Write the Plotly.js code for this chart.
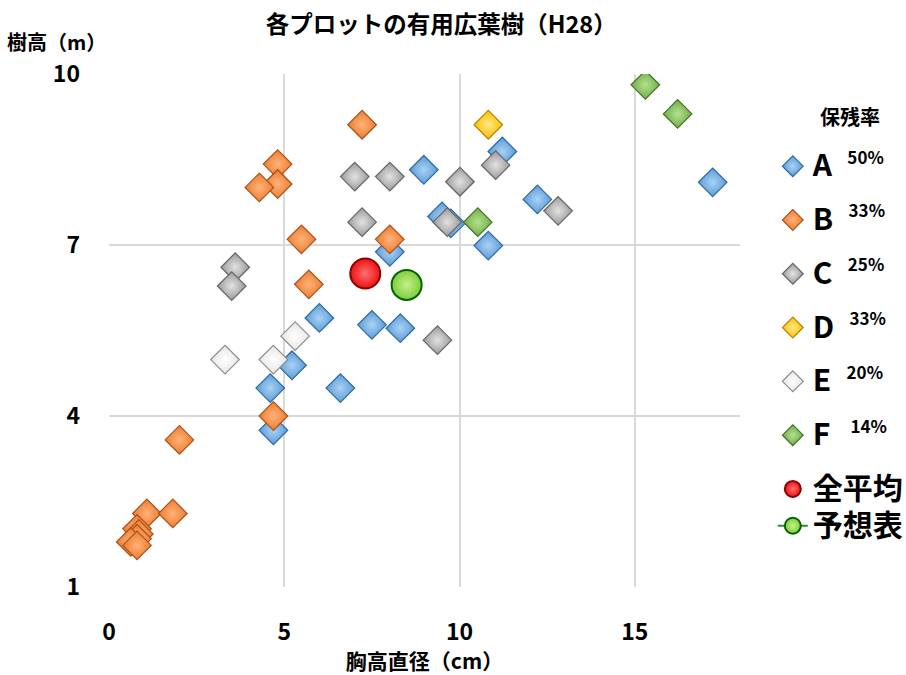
<!DOCTYPE html>
<html>
<head>
<meta charset="utf-8">
<script src="https://cdn.plot.ly/plotly-3.0.1.min.js"></script>
<style>html,body{margin:0;padding:0;background:#fff;}#chart{width:906px;height:675px;}</style>
</head>
<body>
<div id="chart"></div>
<script>
// Data (DBH cm, height m)
const aX = [8.98, 8.01, 6.0, 7.5, 8.31, 11.22, 17.22, 12.22, 9.5, 9.75, 10.82, 5.22, 4.6, 6.6, 4.69];
const aY = [8.32, 6.88, 5.72, 5.60, 5.54, 8.64, 8.10, 7.80, 7.50, 7.38, 6.99, 4.89, 4.49, 4.49, 3.75];
const bX = [7.22, 4.81, 4.81, 4.29, 5.49, 8.01, 5.70, 4.69, 2.01, 1.08, 1.82, 0.80, 0.85, 0.80, 0.62, 0.80];
const bY = [9.11, 8.42, 8.07, 8.01, 7.10, 7.10, 6.31, 4.00, 3.58, 2.29, 2.29, 2.02, 1.93, 1.85, 1.79, 1.73];
const cX = [7.01, 8.01, 7.22, 3.6, 3.5, 11.03, 10.01, 12.81, 9.65, 9.37];
const cY = [8.20, 8.20, 7.40, 6.61, 6.28, 8.40, 8.11, 7.60, 7.40, 5.33];
const dX = [10.82];
const dY = [9.11];
const eX = [5.31, 3.31, 4.69];
const eY = [5.40, 4.99, 4.99];
const fX = [15.3, 16.22, 10.52];
const fY = [9.81, 9.30, 7.40];
const avgX = [7.31];
const avgY = [6.50];
const predX = [8.49];
const predY = [6.30];
const seriesNames = ['A', 'B', 'C', 'D', 'E', 'F'];
const retention = ['50%', '33%', '25%', '33%', '20%', '14%'];
const xTicks = [0, 5, 10, 15];
const yTicks = [1, 4, 7, 10];

const fontJP = '"Noto Sans CJK JP", "Noto Sans", sans-serif';
const styles = [
  {fill: '#5b9bd5', light: '#a9d2f5', edge: '#2e6aa3'},
  {fill: '#ed7d31', light: '#ffb27a', edge: '#a9521a'},
  {fill: '#9a9a9a', light: '#e2e2e2', edge: '#666666'},
  {fill: '#ffc000', light: '#ffe78a', edge: '#b38600'},
  {fill: '#e6e6e6', light: '#ffffff', edge: '#8c8c8c'},
  {fill: '#70ad47', light: '#b5e08f', edge: '#43702a'}
];
const xs = [aX, bX, cX, dX, eX, fX];
const ys = [aY, bY, cY, dY, eY, fY];
const pad = ['  \u200a', '  \u200a', '  \u200a', '  \u200a', '  \u200a', '   '];
const big = s => '<span style="font-size:30px">' + s + '</span>';

const traces = seriesNames.map((n, i) => ({
  type: 'scatter', mode: 'markers', x: xs[i], y: ys[i],
  name: big('<b>' + n + '</b>' + pad[i]) + '<span style="font-size:30px"><sup><span style="font-size:17px;font-weight:bold">' + retention[i] + '</span></sup></span>',
  legendgroup: 'g' + i,
  marker: {symbol: 'diamond', size: 22, color: styles[i].fill,
    gradient: {type: 'radial', color: styles[i].light},
    line: {color: styles[i].edge, width: 1.2}}
}));
traces.push({
  type: 'scatter', mode: 'markers', x: avgX, y: avgY, name: big('<b>全平均</b>'), legendgroup: 'g6',
  marker: {symbol: 'circle', size: 30, color: '#ee1111', gradient: {type: 'radial', color: '#ff7070'},
    line: {color: '#8b0000', width: 2}}
});
traces.push({
  type: 'scatter', mode: 'lines+markers', x: predX, y: predY, name: big('<b>予想表</b>'), legendgroup: 'g6',
  line: {color: '#2e8b2e', width: 2},
  marker: {symbol: 'circle', size: 30, color: '#7fcc3a', gradient: {type: 'radial', color: '#c4f08a'},
    line: {color: '#006400', width: 2}}
});

const layout = {
  width: 906, height: 675,
  paper_bgcolor: '#ffffff', plot_bgcolor: '#ffffff',
  margin: {l: 109, r: 166, t: 74, b: 88, autoexpand: false},
  font: {family: fontJP, color: '#000000'},
  title: {text: '<b>各プロットの有用広葉樹（H28）</b>', font: {size: 23.5, family: fontJP, color: '#000'},
    x: 0.487, xanchor: 'center', y: 0.963, yanchor: 'middle'},
  xaxis: {range: [0, 18], tickvals: xTicks, ticktext: xTicks.map(String),
    showgrid: true, gridcolor: '#d9d9d9', gridwidth: 2, zeroline: false, showline: false,
    ticks: '', ticklabelstandoff: 29,
    tickfont: {size: 23, family: fontJP, weight: 'bold', color: '#000'},
    title: {text: '<b>胸高直径（cm）</b>', font: {size: 21, family: fontJP, color: '#000'}, standoff: 8}},
  yaxis: {range: [1, 10], tickvals: yTicks, ticktext: yTicks.map(String),
    showgrid: true, gridcolor: '#d9d9d9', gridwidth: 2, zeroline: false, showline: false,
    ticks: '', ticklabelstandoff: 28,
    tickfont: {size: 23, family: fontJP, weight: 'bold', color: '#000'}},
  showlegend: true,
  legend: {x: 1.052, xanchor: 'left', y: 0.866, yanchor: 'top',
    font: {size: 26, family: fontJP, color: '#000'},
    tracegroupgap: 17, itemwidth: 30, bgcolor: 'rgba(0,0,0,0)'},
  annotations: [
    {text: '<b>樹高（m）</b>', xref: 'paper', yref: 'paper', x: -0.165, y: 1.063, xanchor: 'left', yanchor: 'middle',
      showarrow: false, font: {size: 20, family: fontJP, color: '#000'}},
    {text: '<b>保残率</b>', xref: 'paper', yref: 'paper', x: 1.174, y: 0.917, xanchor: 'center', yanchor: 'middle',
      showarrow: false, font: {size: 20, family: fontJP, color: '#000'}}
  ]
};

Plotly.newPlot('chart', traces, layout, {displayModeBar: false, staticPlot: true});
</script>
</body>
</html>
